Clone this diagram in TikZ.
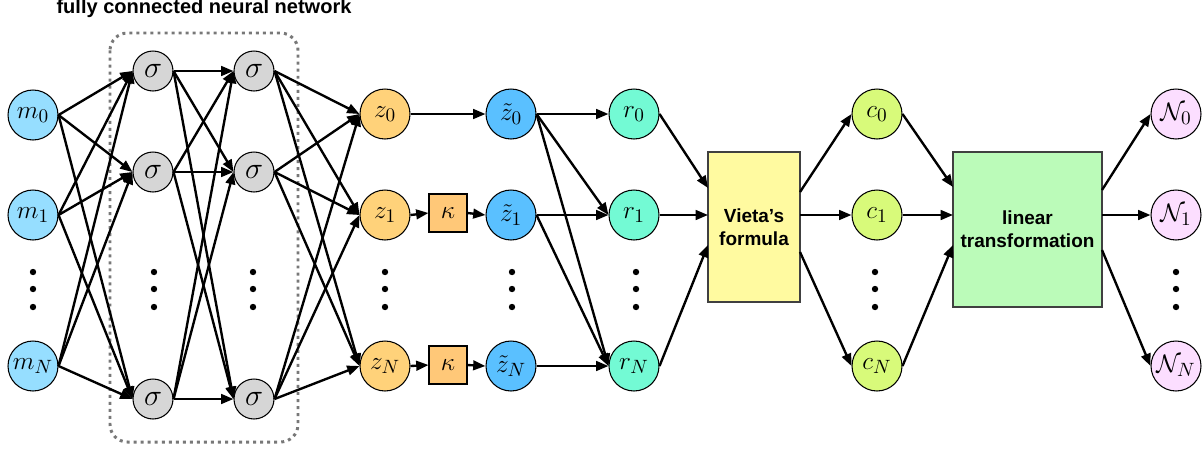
\documentclass[tikz,border=0pt]{standalone}
\usepackage{fontspec}
\setsansfont{Liberation Sans}
\usetikzlibrary{arrows.meta}
\definecolor{mcol}{RGB}{150,222,255}
\definecolor{sigcol}{RGB}{214,214,214}
\definecolor{zcol}{RGB}{255,210,122}
\definecolor{kcol}{RGB}{255,200,120}
\definecolor{ztcol}{RGB}{90,192,255}
\definecolor{rcol}{RGB}{115,250,212}
\definecolor{vcol}{RGB}{255,250,160}
\definecolor{ccol}{RGB}{216,250,122}
\definecolor{lcol}{RGB}{187,251,185}
\definecolor{ncol}{RGB}{252,222,255}
\definecolor{boxgray}{RGB}{120,120,120}
\tikzset{
  circ/.style={circle, draw, line width=0.6pt, minimum size=1cm, inner sep=0pt, font=\fontsize{15.5}{17}\selectfont},
  sig/.style={circ, minimum size=0.8cm, fill=sigcol, font=\fontsize{16.5}{18}\selectfont},
  kbox/.style={rectangle, draw, line width=0.6pt, fill=kcol, minimum size=0.76cm, inner sep=0pt, font=\fontsize{15.5}{17}\selectfont},
  bigbox/.style={rectangle, draw=black!75, line width=0.8pt, inner sep=0pt, align=center, font=\sffamily\bfseries\fontsize{10.8}{13}\selectfont},
  conn/.style={-{Triangle[length=7pt,width=5.5pt]}, line width=1.35pt}
}
\begin{document}
\begin{tikzpicture}[x=0.02cm,y=-0.02cm]
\useasboundingbox (0,0) rectangle (1202,450);
% title
\node[font=\sffamily\bfseries\fontsize{11.4}{13}\selectfont] (title) at (204,8) {fully connected neural network};
% dotted box
\draw[boxgray, line width=1.7pt, dash pattern=on 1.7pt off 2.3pt, rounded corners=0.35cm] (110,33) rectangle (298,442);
% input nodes
\node[circ, fill=mcol] (m0) at (33,115) {$m_0$};
\node[circ, fill=mcol] (m1) at (33,215) {$m_1$};
\node[circ, fill=mcol] (mN) at (33,366) {$m_N$};
% hidden layers
\node[sig] (a0) at (153,71) {$\sigma$};
\node[sig] (a1) at (153,172) {$\sigma$};
\node[sig] (aN) at (153,399) {$\sigma$};
\node[sig] (b0) at (254,71) {$\sigma$};
\node[sig] (b1) at (254,172) {$\sigma$};
\node[sig] (bN) at (254,399) {$\sigma$};
% z
\node[circ, fill=zcol] (z0) at (385,114) {$z_0$};
\node[circ, fill=zcol] (z1) at (385,215) {$z_1$};
\node[circ, fill=zcol] (zN) at (385,366) {$z_N$};
\node[kbox] (k1) at (448,213) {$\kappa$};
\node[kbox] (kN) at (448,365) {$\kappa$};
\node[circ, fill=ztcol] (t0) at (511,114) {$\tilde z_0$};
\node[circ, fill=ztcol] (t1) at (511,215) {$\tilde z_1$};
\node[circ, fill=ztcol] (tN) at (511,366) {$\tilde z_N$};
\node[circ, fill=rcol] (r0) at (634,114) {$r_0$};
\node[circ, fill=rcol] (r1) at (634,215) {$r_1$};
\node[circ, fill=rcol] (rN) at (634,366) {$r_N$};
% Vieta
\node[bigbox, fill=vcol, minimum width=1.84cm, minimum height=3cm] (vieta) at (754,227) {Vieta’s\\formula};
\node[circ, fill=ccol] (c0) at (877,114) {$c_0$};
\node[circ, fill=ccol] (c1) at (877,215) {$c_1$};
\node[circ, fill=ccol] (cN) at (877,366) {$c_N$};
\node[bigbox, fill=lcol, minimum width=2.98cm, minimum height=3.1cm] (lin) at (1027.5,229.5) {linear\\transformation};
\node[circ, fill=ncol] (n0) at (1176,114) {$\mathcal{N}_0$};
\node[circ, fill=ncol] (n1) at (1176,215) {$\mathcal{N}_1$};
\node[circ, fill=ncol] (nN) at (1176,366) {$\mathcal{N}_N$};
% box edge points
\coordinate (vi0) at (708,188);
\coordinate (vi1) at (708,215);
\coordinate (viN) at (708,245);
\coordinate (vo0) at (800,192);
\coordinate (vo1) at (800,215);
\coordinate (voN) at (800,252);
\coordinate (li0) at (953,187);
\coordinate (li1) at (953,215);
\coordinate (liN) at (953,245);
\coordinate (lo0) at (1102,190);
\coordinate (lo1) at (1102,215);
\coordinate (loN) at (1102,250);
% dots
\foreach \x in {33,154,253,385,512,636,875,1176}
  \foreach \y in {272,289,307}
    \fill (\x,\y) circle (3.2);
% edges
\foreach \i in {m0,m1,mN} \foreach \j in {a0,a1,aN} \draw[conn] (\i.east) -- (\j.west);
\foreach \i in {a0,a1,aN} \foreach \j in {b0,b1,bN} \draw[conn] (\i.east) -- (\j.west);
\foreach \i in {b0,b1,bN} \foreach \j in {z0,z1,zN} \draw[conn] (\i.east) -- (\j.west);
\draw[conn] (z0.east) -- (t0.west);
\draw[conn] (z1.east) -- (k1.west);
\draw[conn] (k1.east) -- (t1.west);
\draw[conn] (zN.east) -- (kN.west);
\draw[conn] (kN.east) -- (tN.west);
\draw[conn] (t0.east) -- (r0.west);
\draw[conn] (t0.east) -- (r1.west);
\draw[conn] (t0.east) -- (rN.west);
\draw[conn] (t1.east) -- (r1.west);
\draw[conn] (t1.east) -- (rN.west);
\draw[conn] (tN.east) -- (rN.west);
\draw[conn] (r0.east) -- (vi0);
\draw[conn] (r1.east) -- (vi1);
\draw[conn] (rN.east) -- (viN);
\draw[conn] (vo0) -- (c0.west);
\draw[conn] (vo1) -- (c1.west);
\draw[conn] (voN) -- (cN.west);
\draw[conn] (c0.east) -- (li0);
\draw[conn] (c1.east) -- (li1);
\draw[conn] (cN.east) -- (liN);
\draw[conn] (lo0) -- (n0.west);
\draw[conn] (lo1) -- (n1.west);
\draw[conn] (loN) -- (nN.west);
\end{tikzpicture}
\end{document}
